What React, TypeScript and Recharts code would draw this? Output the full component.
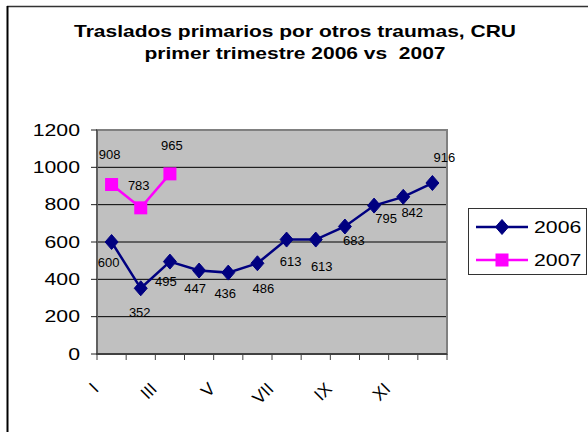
import React from 'react';
import { LineChart, Line, XAxis, YAxis, CartesianGrid, ReferenceArea, Legend } from 'recharts';

const TITLE_LINE_1 = 'Traslados primarios por otros traumas, CRU';
const TITLE_LINE_2 = 'primer trimestre 2006 vs  2007';

const CATEGORIES = ['I', 'II', 'III', 'IV', 'V', 'VI', 'VII', 'VIII', 'IX', 'X', 'XI', 'XII'];
const SERIES_2006 = [600, 352, 495, 447, 436, 486, 613, 613, 683, 795, 842, 916];
const SERIES_2007: (number | null)[] = [908, 783, 965, null, null, null, null, null, null, null, null, null];
const Y_TICKS = [0, 200, 400, 600, 800, 1000, 1200];
const X_BOUNDARIES = [0, 1, 2, 3, 4, 5, 6, 7, 8, 9, 10, 11, 12];

// label placement offsets (style only), relative to each point
const LABEL_OFFSET_2006 = [[-3, 20], [-1, 24], [-4, 20], [-4, 18], [-3, 21], [6, 25], [4, 22], [6, 27], [9, 14], [12, 13], [9, 16], [12, -26]];
const LABEL_OFFSET_2007 = [[-2, -30], [-2, -22], [2, -28]];

const NAVY = '#000080';
const MAGENTA = '#FF00FF';
const FONT = '"Liberation Sans", Arial, sans-serif';
const SX = 1.25;

const data = CATEGORIES.map((c, i) => ({
  pos: i + 0.5,
  cat: c,
  y2006: SERIES_2006[i],
  y2007: SERIES_2007[i],
}));

const Diamond = ({ cx, cy }: { cx: number; cy: number }) => (
  <polygon points={`${cx},${cy - 7.5} ${cx + 6.5},${cy} ${cx},${cy + 7.5} ${cx - 6.5},${cy}`} fill={NAVY} stroke={NAVY} strokeWidth={1} />
);
const Square = ({ cx, cy }: { cx: number; cy: number }) => (
  <rect x={cx - 6.5} y={cy - 6.5} width={13} height={13} fill={MAGENTA} />
);

const renderDiamond = (p: any) => {
  if (p.cx == null || p.cy == null || p.value == null) return <g key={`d-${p.index}`} />;
  return <Diamond key={`d-${p.index}`} cx={p.cx} cy={p.cy} />;
};
const renderSquare = (p: any) => {
  if (p.cx == null || p.cy == null || p.value == null) return <g key={`s-${p.index}`} />;
  return <Square key={`s-${p.index}`} cx={p.cx} cy={p.cy} />;
};

const makeLabel = (offsets: number[][]) => (p: any) => {
  if (p.value == null || p.x == null || p.y == null) return <g />;
  const off = offsets[p.index] || [0, 0];
  return (
    <text x={p.x + off[0]} y={p.y + off[1]} textAnchor="middle" dominantBaseline="central" fontSize={13} fontFamily={FONT} fill="#000">
      {p.value}
    </text>
  );
};

const XTick = (props: any) => {
  const { x, y, payload } = props;
  const k = payload.value;
  if (k % 2 !== 0 || k >= 12) return <g />;
  return (
    <g transform={`translate(${x + 2.7},${y + 28}) rotate(-45)`}>
      <text x={0} y={0} textAnchor="end" fontSize={17.5} fontFamily={FONT} fill="#000">
        {CATEGORIES[k]}
      </text>
    </g>
  );
};

const YTick = (props: any) => {
  const { x, y, payload } = props;
  return (
    <g transform={`translate(${x},${y}) scale(${SX},1)`}>
      <text x={0} y={0} textAnchor="end" dominantBaseline="central" fontSize={17} fontFamily={FONT} fill="#000">
        {payload.value}
      </text>
    </g>
  );
};

const LegendBox = () => (
  <div style={{ width: 117, height: 65, border: '1px solid #333', background: '#fff' }}>
    <svg width={117} height={65} style={{ display: 'block' }}>
      <line x1={7} x2={59} y1={18} y2={18} stroke={NAVY} strokeWidth={2.5} />
      <Diamond cx={33} cy={18} />
      <g transform={`translate(65,24) scale(${SX},1)`}>
        <text x={0} y={0} fontSize={17} fontFamily={FONT} fill="#000">2006</text>
      </g>
      <line x1={7} x2={59} y1={51} y2={51} stroke={MAGENTA} strokeWidth={2.5} />
      <Square cx={33} cy={51} />
      <g transform={`translate(65,57) scale(${SX},1)`}>
        <text x={0} y={0} fontSize={17} fontFamily={FONT} fill="#000">2007</text>
      </g>
    </svg>
  </div>
);

export default function App() {
  return (
    <div style={{ position: 'absolute', left: 0, top: 0, width: 588, height: 432, overflow: 'hidden', background: '#fff', fontFamily: FONT }}>
      <svg width={588} height={432} style={{ position: 'absolute', left: 0, top: 0 }}>
        <line x1={7} x2={588} y1={6.5} y2={6.5} stroke="#333" strokeWidth={1.5} />
        <line x1={7.5} x2={7.5} y1={6} y2={432} stroke="#000" strokeWidth={2} />
        <g transform={`translate(295,37) scale(${SX},1)`}>
          <text x={0} y={0} textAnchor="middle" fontSize={16.8} fontWeight="bold" fontFamily={FONT} fill="#000">
            {TITLE_LINE_1}
          </text>
        </g>
        <g transform={`translate(295,59) scale(${SX},1)`}>
          <text x={0} y={0} textAnchor="middle" fontSize={16.8} fontWeight="bold" fontFamily={FONT} fill="#000" style={{ whiteSpace: 'pre' }}>
            {TITLE_LINE_2}
          </text>
        </g>
      </svg>
      <div style={{ position: 'absolute', left: 0, top: 0 }}>
        <LineChart width={588} height={432} data={data} margin={{ top: 130, right: 141, bottom: 28, left: 37 }}>
          <CartesianGrid vertical={false} stroke="#000" strokeWidth={1} fill="#C0C0C0" fillOpacity={1} />
          <XAxis
            type="number"
            dataKey="pos"
            domain={[0, 12]}
            ticks={X_BOUNDARIES}
            interval={0}
            height={50}
            tickSize={6}
            tickMargin={2}
            tick={<XTick />}
            tickLine={{ stroke: '#404040' }}
            axisLine={{ stroke: '#404040', strokeWidth: 2 }}
            allowDataOverflow
          />
          <YAxis
            type="number"
            domain={[0, 1200]}
            ticks={Y_TICKS}
            interval={0}
            width={60}
            tickSize={6}
            tickMargin={11}
            tick={<YTick />}
            tickLine={{ stroke: '#202020' }}
            axisLine={{ stroke: '#404040' }}
          />
          <ReferenceArea x1={0} x2={12} y1={0} y2={1200} fill="none" fillOpacity={0} stroke="#808080" strokeWidth={2} />
          <Line
            dataKey="y2006"
            stroke={NAVY}
            strokeWidth={2.5}
            dot={renderDiamond}
            activeDot={false}
            label={makeLabel(LABEL_OFFSET_2006)}
            isAnimationActive={false}
          />
          <Line
            dataKey="y2007"
            stroke={MAGENTA}
            strokeWidth={2.5}
            dot={renderSquare}
            activeDot={false}
            connectNulls={false}
            label={makeLabel(LABEL_OFFSET_2007)}
            isAnimationActive={false}
          />
          <Legend
            layout="vertical"
            align="center"
            verticalAlign="middle"
            content={<LegendBox />}
            wrapperStyle={{ position: 'absolute', left: 468, top: 208, width: 119, height: 67 }}
          />
        </LineChart>
      </div>
    </div>
  );
}
